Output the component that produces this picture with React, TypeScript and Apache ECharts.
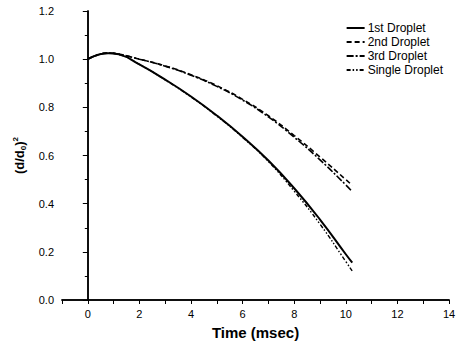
import React, { useEffect, useRef } from "react";
import * as echarts from "echarts";

const time = [0, 0.4, 0.8, 1.2, 2, 3, 4, 5, 6, 7, 8, 9, 10, 10.25];
const first = [1.0, 1.018, 1.025, 1.02, 0.978, 0.915, 0.845, 0.766, 0.678, 0.579, 0.464, 0.334, 0.19, 0.155];
const second = [1.0, 1.018, 1.025, 1.021, 1.0, 0.972, 0.935, 0.89, 0.833, 0.765, 0.683, 0.594, 0.5, 0.476];
const third = [1.0, 1.018, 1.025, 1.021, 1.0, 0.971, 0.933, 0.887, 0.83, 0.76, 0.676, 0.582, 0.478, 0.45];
const single = [1.0, 1.018, 1.025, 1.02, 0.978, 0.914, 0.843, 0.764, 0.675, 0.575, 0.452, 0.315, 0.16, 0.12];

const names = ["1st Droplet", "2nd Droplet", "3rd Droplet", "Single Droplet"];
const seriesData = [first, second, third, single];
const dashes: (string | number[])[] = ["solid", [5, 3], [7, 2, 2, 2], [4, 2, 1.5, 2, 1.5, 2]];
const widths = [2, 1.6, 1.6, 1.4];

const FONT = "Liberation Sans, Arial, sans-serif";

export default function App() {
  const ref = useRef<HTMLDivElement>(null);
  useEffect(() => {
    if (!ref.current) return;
    const chart = echarts.init(ref.current, null, { renderer: "svg" });
    chart.setOption({
      animation: false,
      backgroundColor: "#fff",
      grid: { left: 62, right: 13, top: 11, bottom: 49 },
      legend: {
        orient: "vertical",
        right: 14,
        top: 17,
        itemWidth: 18,
        itemHeight: 10,
        itemGap: 2,
        align: "left",
        itemStyle: { opacity: 0 },
        textStyle: { fontFamily: FONT, fontSize: 12, color: "#000", padding: [0, 0, 0, -2] },
        data: names,
      },
      xAxis: [
        {
          type: "value",
          min: -1,
          max: 14,
          interval: 1,
          name: "Time (msec)",
          nameLocation: "middle",
          nameGap: 25,
          nameTextStyle: { fontFamily: FONT, fontSize: 15, fontWeight: "bold", color: "#000" },
          axisLine: { show: true, lineStyle: { color: "#000", width: 1.5 } },
          axisTick: { show: true, inside: false, length: 4, lineStyle: { color: "#000" } },
          axisLabel: {
            fontFamily: FONT,
            fontSize: 11,
            color: "#000",
            margin: 8,
            formatter: (v: number) => (Math.round(v) % 2 === 0 ? String(Math.round(v)) : ""),
          },
          splitLine: { show: false },
        },
        {
          type: "value",
          position: "top",
          min: -1,
          max: 14,
          interval: 1,
          axisLine: { show: true, lineStyle: { color: "#000", width: 1.5 } },
          axisTick: { show: true, inside: true, length: 3, lineStyle: { color: "#000" } },
          axisLabel: { show: false },
          splitLine: { show: false },
        },
      ],
      yAxis: [
        {
          type: "value",
          min: 0,
          max: 1.2,
          interval: 0.2,
          name: "(d/d{sub|0}){sup|2}",
          nameLocation: "middle",
          nameGap: 30,
          nameRotate: 90,
          nameTextStyle: {
            fontFamily: FONT,
            fontSize: 13,
            fontWeight: "bold",
            color: "#000",
            rich: {
              sub: { fontFamily: FONT, fontSize: 8, fontWeight: "bold", color: "#000", verticalAlign: "bottom", padding: [6, 0, 0, 0] },
              sup: { fontFamily: FONT, fontSize: 8, fontWeight: "bold", color: "#000", verticalAlign: "top", padding: [0, 0, 8, 0] },
            },
          },
          axisLine: { show: true, lineStyle: { color: "#000", width: 1.5 } },
          axisTick: { show: true, inside: false, length: 5, lineStyle: { color: "#000" } },
          minorTick: { show: true, splitNumber: 2, length: 3, lineStyle: { color: "#000" } },
          axisLabel: {
            fontFamily: FONT,
            fontSize: 11,
            color: "#000",
            margin: 8,
            formatter: (v: number) => v.toFixed(1),
          },
          splitLine: { show: false },
          minorSplitLine: { show: false },
        },
        {
          type: "value",
          position: "right",
          min: 0,
          max: 1.2,
          interval: 0.2,
          axisLine: { show: true, lineStyle: { color: "#000", width: 1.5 } },
          axisTick: { show: false },
          axisLabel: { show: false },
          splitLine: { show: false },
        },
      ],
      series: names.map((n, i) => ({
        name: n,
        type: "line",
        xAxisIndex: 0,
        yAxisIndex: 0,
        smooth: 0.5,
        symbol: "none",
        data: time.map((t, k) => [t, seriesData[i][k]]),
        lineStyle: { color: "#000", width: widths[i], type: dashes[i] },
        itemStyle: { color: "#000" },
        z: 4 - i,
      })),
    });
    return () => chart.dispose();
  }, []);
  return (
    <div
      ref={ref}
      style={{ position: "fixed", left: 0, top: 0, width: 462, height: 349 }}
    />
  );
}
